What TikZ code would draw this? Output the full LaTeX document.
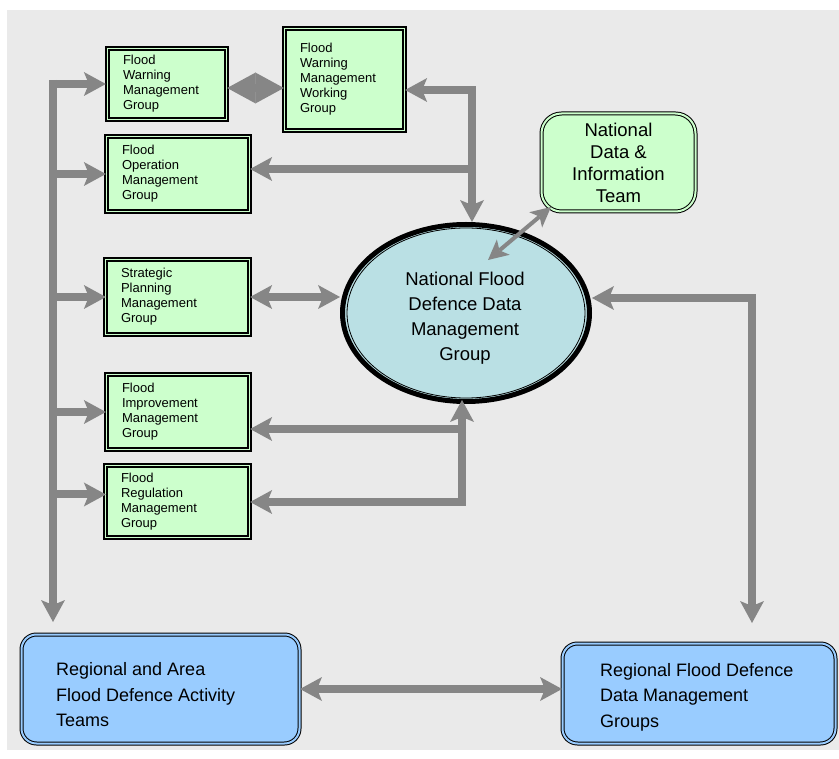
\documentclass[tikz,border=0pt]{standalone}
\usepackage{fontspec}
\setmainfont{Liberation Sans}
\usetikzlibrary{arrows.meta,shapes.geometric,calc}
\definecolor{bgc}{HTML}{EAEAEA}
\definecolor{grn}{HTML}{CCFFCC}
\definecolor{blu}{HTML}{99CCFF}
\definecolor{cyn}{HTML}{BAE0E4}
\definecolor{lin}{HTML}{868686}
\begin{document}
\begin{tikzpicture}[x=1pt,y=-1pt,
  >={Stealth[length=22pt,width=24pt,inset=5pt,line width=0pt]},
  conn/.style={draw=lin, line width=8pt},
  dconn/.style={draw=lin, line width=4pt, >={Stealth[length=20pt,width=20pt,inset=5pt,line width=0pt]}},
  diam/.style={>={Triangle[length=28.5pt,width=31pt,line width=0pt]}},
  gbox/.style={draw=black, line width=1.3pt, double=grn, double distance=1.6pt, fill=grn,
    align=left, font=\fontsize{13}{15}\selectfont, inner xsep=15.5pt, inner ysep=0pt},
  rbox/.style={draw=black, line width=1pt, double=grn, double distance=2pt, fill=grn,
    rounded corners=20pt, align=center, font=\fontsize{18.5}{22}\selectfont, inner sep=0pt},
  bbox/.style={draw=black, line width=1pt, double=blu, double distance=2pt, fill=blu,
    rounded corners=15pt, inner sep=0pt},
  btext/.style={align=left, font=\fontsize{18}{25.5}\selectfont, inner sep=0pt, anchor=west},
]
\useasboundingbox (0,0) rectangle (839,759);
\fill[bgc] (7,10) rectangle (839,750);

% green boxes
\node[gbox, text width=88pt, minimum height=71pt] (fwmg) at (167,84) {Flood\\Warning\\Management\\Group};
\node[gbox, text width=89pt, minimum height=102pt] (fwmwg) at (344.5,79.5) {Flood\\Warning\\Management\\Working\\Group};
\node[gbox, text width=112pt, minimum height=75pt] (fomg) at (178,174) {Flood\\Operation\\Management\\Group};
\node[gbox, text width=113pt, minimum height=75pt] (spmg) at (177.5,297) {Strategic\\Planning\\Management\\Group};
\node[gbox, text width=112pt, minimum height=75pt] (fimg) at (178,412) {Flood\\Improvement\\Management\\Group};
\node[gbox, text width=113pt, minimum height=72pt] (frmg) at (177.5,501.5) {Flood\\Regulation\\Management\\Group};

% national data & information team
\node[rbox, minimum width=154pt, minimum height=98pt] (ndit) at (618.5,162.5) {National\\Data \&\\Information\\Team};

% central ellipse
\node[ellipse, draw=black, line width=5pt, fill=cyn, minimum width=247pt, minimum height=177pt,
  inner sep=0pt] (ell) at (466,313) {};
\draw[line width=0.8pt] (ell.center) ellipse [x radius=119pt, y radius=85pt];
\node[align=center, font=\fontsize{18.5}{25}\selectfont, inner sep=0pt] (ellt) at (465,318)
  {National Flood\\Defence Data\\Management\\Group};

% bottom boxes
\node[bbox, minimum width=278pt, minimum height=109pt] (rat) at (160.5,689) {};
\node[btext] (ratt) at (56,695) {Regional and Area\\Flood Defence Activity\\Teams};
\node[bbox, minimum width=273pt, minimum height=100pt] (rfd) at (699,693.5) {};
\node[btext] (rfdt) at (600,697) {Regional Flood Defence\\Data Management\\Groups};

% left bus
\coordinate (busTop) at (53,80);
\coordinate (busBot) at (53,622);
\draw[conn,->] (busTop) -- (busBot);
\path ([yshift=7pt]frmg.west) coordinate (frmgIn);
\foreach \b in {fwmg,fomg,spmg,fimg,frmgIn}
  \draw[conn,->] (busTop |- \b) -- (\b -| fomg.west);

% warning group <-> working group
\path ([yshift=-4pt]fwmg.east) coordinate (ww);
\draw[conn,<->,diam] (ww) -- (ww -| fwmwg.west);

% working group <-> national group, operation group
\coordinate (jTop) at (472,90);
\draw[conn,<->] (fwmwg.east |- jTop) -- (jTop) -- (jTop |- ell.north);
\coordinate (jF) at (476,169);
\draw[conn,->] (jF) -- (jF -| fomg.east);

% strategic planning <-> national group
\draw[conn,<->] (spmg.east) -- (spmg.east -| ell.west);

% information team <-> national group
\draw[dconn,<->] ([xshift=10pt,yshift=5pt]ndit.south west) -- ([xshift=22pt,yshift=53pt]ell.center);

% improvement / regulation <-> national group
\coordinate (jB) at (462,502);
\coordinate (jBt) at (462,400);
\draw[conn,<->] (jB -| frmg.east) -- (jB) -- (jBt);
\coordinate (jI) at (466,429);
\draw[conn,->] (jI) -- (jI -| fimg.east);

% national group <-> regional data groups
\coordinate (jR) at (752,298);
\coordinate (jRb) at (752,623);
\draw[conn,<->] (jR -| ell.east) -- (jR) -- (jRb);

% regional teams <-> regional data groups
\draw[conn,<->] (rat.east) -- (rat.east -| rfd.west);
\end{tikzpicture}
\end{document}
